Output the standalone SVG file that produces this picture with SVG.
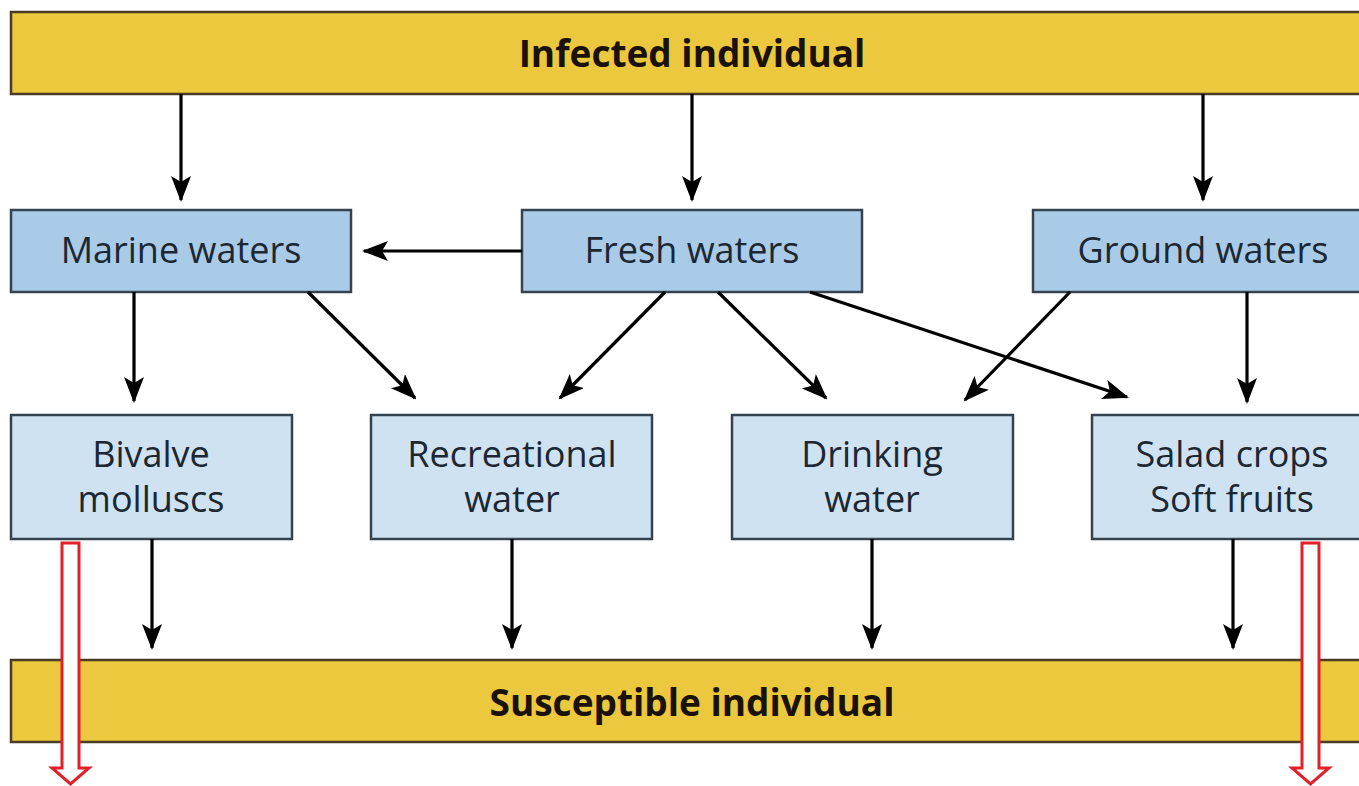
<svg xmlns="http://www.w3.org/2000/svg" width="1359" height="786" viewBox="0 0 1359 786">
<defs>
<style>
.bar{fill:#ecc83e;stroke:#4a3c22;stroke-width:2.5}
.mid{fill:#a9cbe7;stroke:#34434f;stroke-width:2.5}
.low{fill:#cfe2f2;stroke:#34434f;stroke-width:2.5}
.t{font-family:"Open Sans","Noto Sans",sans-serif;font-size:36px;fill:#1b2733;text-anchor:middle}
.b{font-family:"Open Sans","Noto Sans",sans-serif;font-size:37px;font-weight:bold;fill:#1a1208;text-anchor:middle}
.c{stroke:#000;stroke-width:3.2;fill:none;marker-end:url(#ah)}
.red{fill:#fff;stroke:#e0202a;stroke-width:3}
</style>
<marker id="ah" viewBox="0 0 26 20" refX="24" refY="10" markerWidth="26" markerHeight="20" markerUnits="userSpaceOnUse" orient="auto">
<path d="M0,0 L26,10 L0,20 L6,10 Z" fill="#000"/>
</marker>
</defs>
<rect width="1359" height="786" fill="#fff"/>
<g id="infected"><rect class="bar" x="11" y="12" width="1360" height="82"/><text class="b" x="692" y="67">Infected individual</text></g>
<g id="marine"><rect class="mid" x="11" y="210" width="340" height="82"/><text class="t" x="181" y="263">Marine waters</text></g>
<g id="fresh"><rect class="mid" x="522" y="210" width="340" height="82"/><text class="t" x="692" y="263">Fresh waters</text></g>
<g id="ground"><rect class="mid" x="1033" y="210" width="340" height="82"/><text class="t" x="1203" y="263">Ground waters</text></g>
<g id="bivalve"><rect class="low" x="11" y="415" width="281" height="124"/><text class="t" x="151" y="467">Bivalve</text><text class="t" x="151" y="512">molluscs</text></g>
<g id="recreational"><rect class="low" x="371" y="415" width="281" height="124"/><text class="t" x="512" y="467">Recreational</text><text class="t" x="512" y="512">water</text></g>
<g id="drinking"><rect class="low" x="732" y="415" width="281" height="124"/><text class="t" x="872" y="467">Drinking</text><text class="t" x="872" y="512">water</text></g>
<g id="salad"><rect class="low" x="1092" y="415" width="281" height="124"/><text class="t" x="1232" y="467">Salad crops</text><text class="t" x="1232" y="512">Soft fruits</text></g>
<g id="susceptible"><rect class="bar" x="11" y="660" width="1360" height="82"/><text class="b" x="692" y="716">Susceptible individual</text></g>
<g id="connectors">
<line class="c" x1="181" y1="94" x2="181" y2="200"/>
<line class="c" x1="692" y1="94" x2="692" y2="200"/>
<line class="c" x1="1203" y1="94" x2="1203" y2="200"/>
<line class="c" x1="522" y1="251" x2="364" y2="251"/>
<line class="c" x1="134" y1="292" x2="134" y2="401"/>
<line class="c" x1="308" y1="292" x2="415" y2="398"/>
<line class="c" x1="665" y1="292" x2="560" y2="398"/>
<line class="c" x1="718" y1="292" x2="826" y2="398"/>
<line class="c" x1="810" y1="292" x2="1127" y2="397"/>
<line class="c" x1="1070" y1="292" x2="965" y2="400"/>
<line class="c" x1="1247" y1="292" x2="1247" y2="402"/>
<line class="c" x1="152" y1="539" x2="152" y2="648"/>
<line class="c" x1="512" y1="539" x2="512" y2="648"/>
<line class="c" x1="872" y1="539" x2="872" y2="648"/>
<line class="c" x1="1233" y1="539" x2="1233" y2="648"/>
</g>
<g id="red-arrows">
<polygon class="red" points="62,543 79,543 79,768 89,768 70.5,784 52,768 62,768"/>
<polygon class="red" points="1302,543 1319,543 1319,768 1329,768 1310.5,784 1292,768 1302,768"/>
</g>
</svg>
